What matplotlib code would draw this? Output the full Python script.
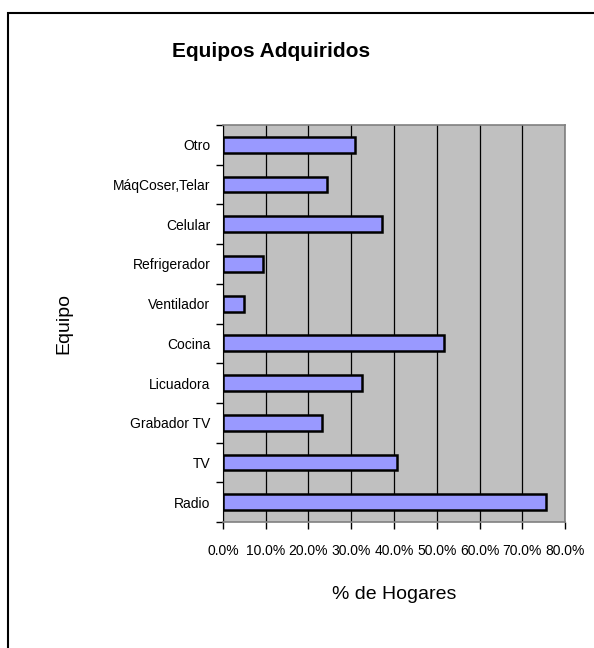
import matplotlib.pyplot as plt
import matplotlib.patches as mpatches
import numpy as np
from matplotlib.ticker import FuncFormatter

plt.rcParams['font.family'] = ['Liberation Sans', 'DejaVu Sans']

# bottom to top, as drawn
equipos = ['Radio', 'TV', 'Grabador TV', 'Licuadora', 'Cocina',
           'Ventilador', 'Refrigerador', 'Celular', 'MáqCoser,Telar', 'Otro']
porcentajes = [75.6, 40.7, 23.2, 32.6, 51.7, 4.8, 9.4, 37.3, 24.4, 30.9]
x_ticks = [0, 10, 20, 30, 40, 50, 60, 70, 80]

fig = plt.figure(figsize=(5.94, 6.48), dpi=100)
ax = fig.add_axes([0.3754, 0.1944, 0.5758, 0.6127])

y = np.arange(len(equipos))
ax.set_facecolor('#C0C0C0')
ax.barh(y, porcentajes, height=0.4, color='#9999FF', edgecolor='black',
        linewidth=1.8, zorder=3)

ax.set_xlim(0, 80)
ax.set_ylim(-0.5, len(equipos) - 0.5)
ax.set_xticks(x_ticks)
ax.xaxis.set_major_formatter(FuncFormatter(lambda v, p: f'{v:.1f}%'))
ax.grid(axis='x', color='black', linewidth=0.9, zorder=1)

# category labels at centres, tick marks between categories
ax.set_yticks(y)
ax.set_yticklabels(equipos, fontsize=10)
ax.tick_params(axis='y', length=0, pad=9)
ax.set_yticks(np.arange(-0.5, len(equipos)), minor=True)
ax.tick_params(axis='y', which='minor', length=5, width=1, direction='out')
ax.tick_params(axis='x', labelsize=10, length=5, width=1, pad=11)

for side in ['top', 'right', 'bottom']:
    ax.spines[side].set_color('#808080')
    ax.spines[side].set_linewidth(1.2)
ax.spines['left'].set_color('black')

ax.set_xlabel('% de Hogares', fontsize=14, labelpad=20)
ax.set_ylabel('Equipo', fontsize=14, labelpad=29)
fig.text(0.457, 0.92, 'Equipos Adquiridos', fontsize=15, fontweight='bold',
         ha='center', va='center')

# chart border (clipped at right and bottom like the source)
fig.patches.append(mpatches.Rectangle((8 / 594, -0.1), 1.1, 1 - 13 / 648 + 0.1,
                                      fill=False, edgecolor='black', linewidth=1.5,
                                      transform=fig.transFigure, figure=fig))

fig.savefig('out.png', dpi=100)
